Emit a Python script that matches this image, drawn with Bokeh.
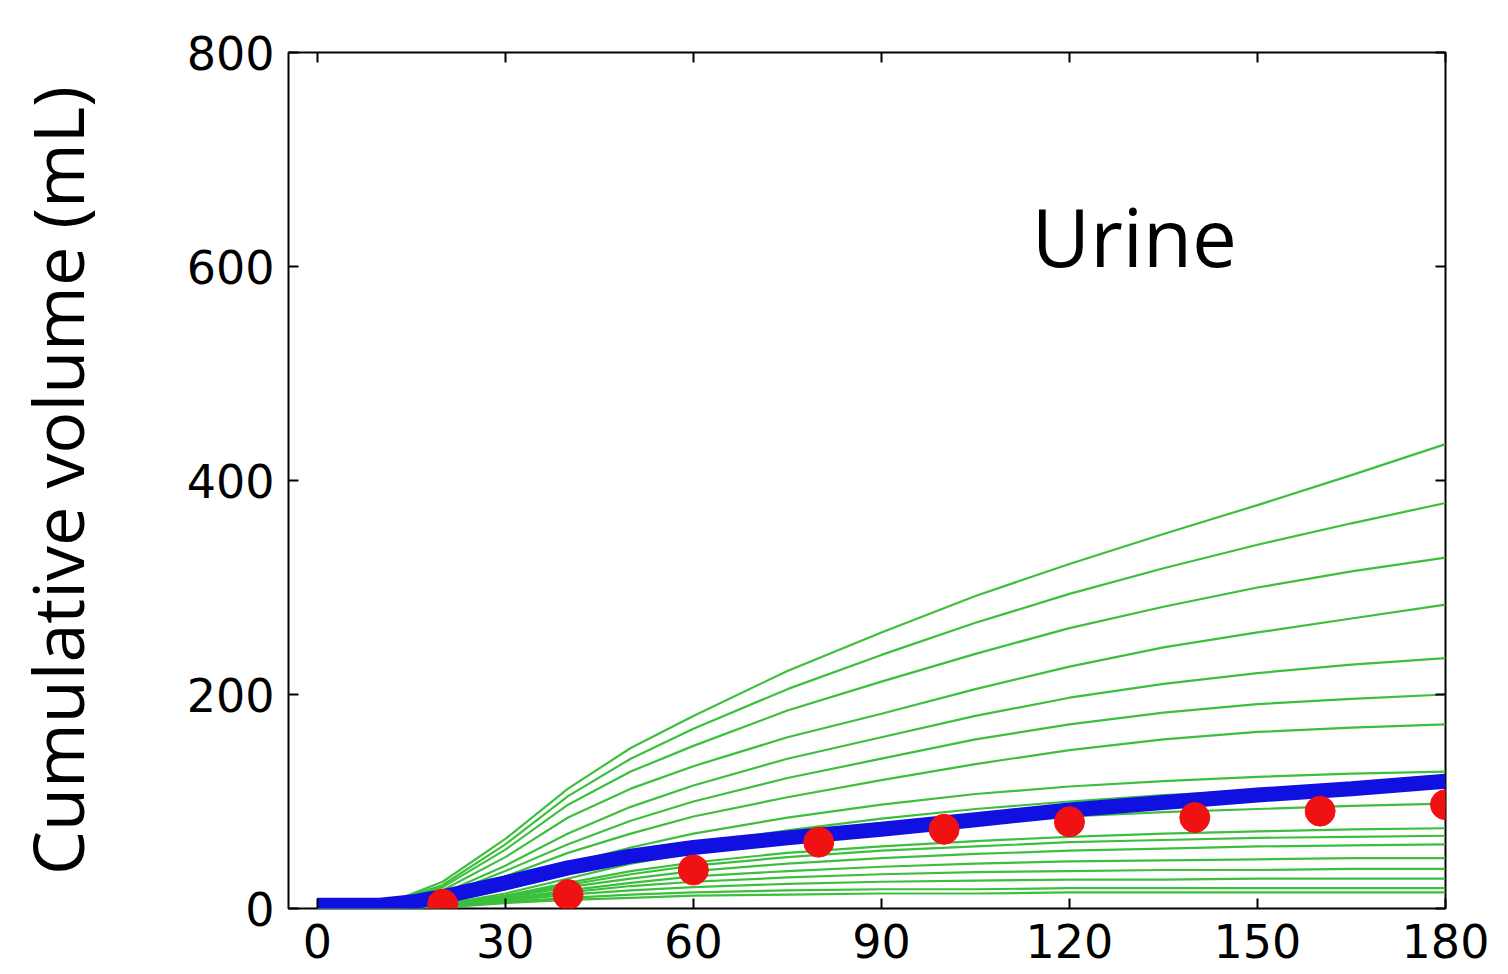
from bokeh.plotting import figure
from bokeh.models import LinearAxis, FixedTicker, Range1d
from bokeh.core.properties import value
from bokeh.embed import file_html
from bokeh.resources import INLINE

# ---- data ----
time_min = [0, 10, 20, 30, 40, 50, 60, 75, 90, 105, 120, 135, 150, 165, 180]

sim_curves = [
    [0, 2, 25, 65, 112, 150, 180, 222, 258, 292, 322, 350, 377, 405, 434],
    [0, 2, 22, 60, 105, 140, 168, 205, 237, 267, 294, 318, 340, 360, 379],
    [0, 2, 20, 55, 97, 128, 152, 185, 212, 238, 262, 282, 300, 315, 328],
    [0, 2, 17, 48, 85, 112, 133, 160, 182, 205, 226, 244, 258, 271, 284],
    [0, 1, 14, 40, 70, 95, 115, 140, 160, 180, 197, 210, 220, 228, 234],
    [0, 1, 12, 35, 60, 82, 100, 122, 140, 158, 172, 183, 191, 196, 200],
    [0, 1, 10, 30, 52, 70, 86, 104, 120, 135, 148, 158, 165, 169, 172],
    [0, 1, 8, 24, 42, 57, 70, 85, 97, 107, 114, 119, 123, 126, 128],
    [0, 1, 6, 18, 34, 48, 60, 73, 84, 93, 100, 106, 110, 113, 116],
    [0, 0, 4, 14, 28, 42, 52, 64, 73, 80, 86, 90, 93, 96, 98],
    [0, 0, 4, 12, 24, 35, 43, 52, 58, 63, 67, 70, 72, 74, 75],
    [0, 0, 3, 11, 22, 32, 40, 48, 54, 58, 62, 64, 66, 67, 68],
    [0, 0, 3, 10, 20, 28, 35, 42, 47, 51, 54, 56, 58, 59, 60],
    [0, 0, 3, 9, 17, 24, 30, 35, 39, 42, 44, 45, 46, 47, 47],
    [0, 0, 2, 8, 15, 21, 25, 29, 32, 34, 35, 36, 36, 37, 37],
    [0, 0, 2, 7, 13, 17, 20, 23, 25, 26, 27, 27, 28, 28, 28],
    [0, 0, 2, 6, 10, 13, 15, 17, 18, 18, 19, 19, 19, 19, 19],
    [0, 0, 1, 5, 8, 10, 12, 13, 14, 14, 15, 15, 15, 15, 15],
]

model_time = [0, 5, 10, 15, 20, 30, 40, 50, 60, 75, 90, 105, 120, 135, 150, 165, 180]
model_volume = [3, 3, 3, 6, 11, 24, 38, 49, 57, 66, 74, 83, 92, 99, 106, 112, 119]

obs_time = [20, 40, 60, 80, 100, 120, 140, 160, 180]
obs_volume = [4, 13, 36, 62, 74, 81, 85, 91, 97]

x_ticks = [0, 30, 60, 90, 120, 150, 180]
y_ticks = [0, 200, 400, 600, 800]

y_label = "Cumulative volume (mL)"
panel_label = "Urine"

# ---- figure ----
p = figure(width=1500, height=974, output_backend="svg", toolbar_location=None,
           x_range=Range1d(-4.6, 180), y_range=Range1d(0, 800),
           min_border_left=288, min_border_right=55, min_border_top=52,
           min_border_bottom=66)
p.background_fill_color = "white"
p.border_fill_color = "white"
p.grid.visible = False
p.outline_line_color = "black"
p.outline_line_width = 2

tick_font = "DejaVu Sans"
tick_size = "46px"

for ax in p.xaxis:
    ax.ticker = FixedTicker(ticks=x_ticks)
    ax.major_tick_in = 10
    ax.major_tick_out = 0
    ax.minor_tick_line_color = None
    ax.axis_line_color = None
    ax.major_tick_line_width = 2
    ax.major_label_text_font = tick_font
    ax.major_label_text_font_size = tick_size
    ax.major_label_standoff = 15
    ax.major_label_text_color = "black"

for ax in p.yaxis:
    ax.ticker = FixedTicker(ticks=y_ticks)
    ax.major_tick_in = 10
    ax.major_tick_out = 0
    ax.minor_tick_line_color = None
    ax.axis_line_color = None
    ax.major_tick_line_width = 2
    ax.major_label_text_font = tick_font
    ax.major_label_text_font_size = tick_size
    ax.major_label_standoff = 14
    ax.major_label_text_color = "black"
    ax.axis_label = y_label
    ax.axis_label_text_font = "Open Sans"
    ax.axis_label_text_font_size = "70px"
    ax.axis_label_text_font_style = "normal"
    ax.axis_label_text_color = "black"
    ax.axis_label_standoff = 79

top_ax = LinearAxis(ticker=FixedTicker(ticks=x_ticks), major_tick_in=10, major_tick_out=0,
                    minor_tick_line_color=None, axis_line_color=None, major_tick_line_width=2,
                    major_label_overrides={t: "" for t in x_ticks}, major_label_standoff=0)
right_ax = LinearAxis(ticker=FixedTicker(ticks=y_ticks), major_tick_in=10, major_tick_out=0,
                      minor_tick_line_color=None, axis_line_color=None, major_tick_line_width=2,
                      major_label_overrides={t: "" for t in y_ticks}, major_label_standoff=0)
p.add_layout(top_ax, "above")
p.add_layout(right_ax, "right")

# simulated curves
p.multi_line(xs=[time_min] * len(sim_curves), ys=sim_curves,
             line_color="#3cbf3c", line_width=2.2)

# model mean
p.line(model_time, model_volume, line_color="#1010e0", line_width=15, line_cap="butt")

# observations
p.scatter(obs_time, obs_volume, size=30, fill_color="#f01212", line_color="#f01212")

# panel label
p.text(x=[114.0], y=[629], text=[panel_label], text_font=value("Open Sans"),
       text_font_size="80px", text_color="black", text_baseline="alphabetic",
       text_align="left")

open("out.html", "w").write(file_html(p, INLINE))
